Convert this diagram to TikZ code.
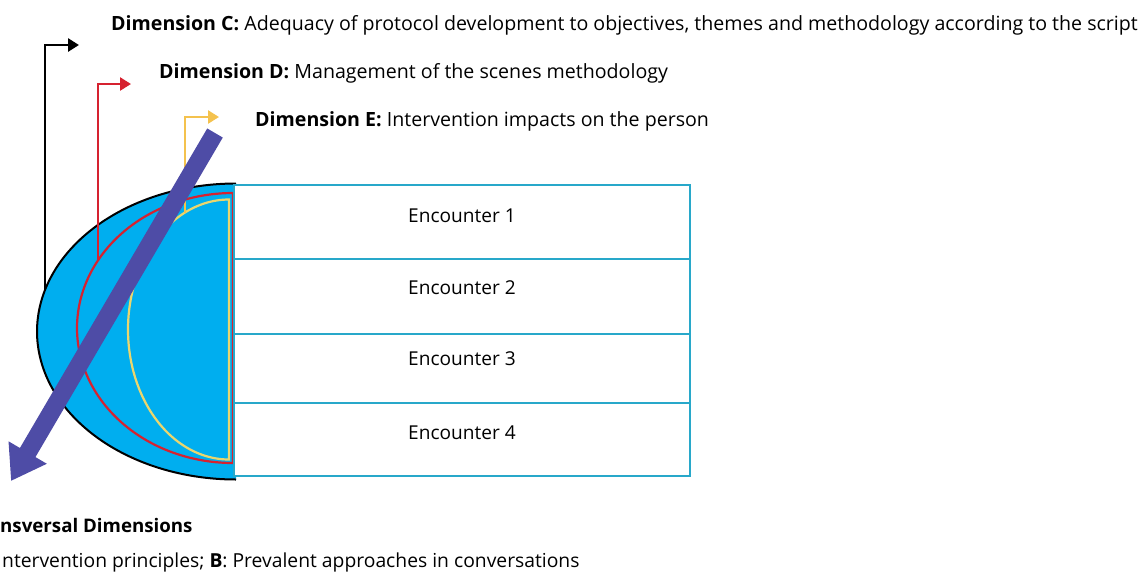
\documentclass[tikz,border=0pt]{standalone}
\usepackage{fontspec}
\setmainfont{Open Sans}
\usetikzlibrary{arrows.meta}

\definecolor{discblue}{RGB}{0,174,239}
\definecolor{gridcyan}{RGB}{40,168,202}
\definecolor{dimred}{RGB}{214,34,48}
\definecolor{dimyellow}{RGB}{244,194,78}
\definecolor{arcyellow}{RGB}{234,214,110}
\definecolor{transpurple}{RGB}{78,76,166}

\tikzset{
  dimtext/.style={anchor=base west, inner sep=0pt, font=\fontsize{19.6}{21}\selectfont, text=black},
  legtext/.style={anchor=base west, inner sep=0pt, font=\fontsize{19.3}{21}\selectfont, text=black},
  enctext/.style={anchor=base, inner sep=0pt, font=\fontsize{19.1}{21}\selectfont, text=black},
  encrow/.style={draw=gridcyan, line width=2.4pt, fill=white, minimum width=456pt, inner sep=0pt, anchor=north west},
  dimarrow/.style={line width=#1, -{Triangle[length=11pt,width=13pt]}},
  transarrow/.style={draw=transpurple, line width=18pt, -{Triangle[length=33pt,width=42pt]}},
}

\begin{document}
\begin{tikzpicture}[x=1pt, y=-1pt]
  \useasboundingbox (0,0) rectangle (1148,574);

  % half disc holding the encounters
  \fill[discblue] plot[domain=90:270, samples=120] ({236+199*cos(\x)}, {331.5-148*sin(\x)}) -- cycle;
  \draw[black, line width=2pt] plot[domain=90:270, samples=120] ({236+199*cos(\x)}, {331.5-148*sin(\x)});

  % inner arcs for dimensions D and E
  \draw[dimred, line width=2.2pt] plot[domain=90:270, samples=120] ({233+156*cos(\x)}, {328-135*sin(\x)}) -- cycle;
  \draw[arcyellow, line width=2.2pt] plot[domain=90:270, samples=120] ({229+101*cos(\x)}, {329.5-130*sin(\x)}) -- cycle;

  % elbow arrows leading to the dimension labels
  \coordinate (cFoot) at (45,289);
  \coordinate (cTip) at (79,45);
  \coordinate (dFoot) at (98,260);
  \coordinate (dTip) at (131,84);
  \coordinate (eFoot) at (185,213);
  \coordinate (eTip) at (219,117);
  \draw[black, dimarrow=2.8pt] (cFoot) |- (cTip);
  \draw[dimred, dimarrow=2.5pt] (dFoot) |- (dTip);
  \draw[dimyellow, dimarrow=2.5pt] (eFoot) |- (eTip);

  % encounter rows
  \node[encrow, minimum height=74pt] (enc1) at (233,184) {};
  \node[encrow, minimum height=75pt] (enc2) at (233,258) {};
  \node[encrow, minimum height=69pt] (enc3) at (233,333) {};
  \node[encrow, minimum height=73pt] (enc4) at (233,402) {};
  \node[enctext] (t1) at (462,222) {Encounter 1};
  \node[enctext] (t2) at (462,294) {Encounter 2};
  \node[enctext] (t3) at (462,365) {Encounter 3};
  \node[enctext] (t4) at (462,439) {Encounter 4};

  % transversal arrow across the disc
  \coordinate (tTop) at (215,133);
  \coordinate (tTip) at (11,481);
  \draw[transarrow] (tTop) -- (tTip);

  % labels
  \node[dimtext] (dimC) at (111,30) {\textbf{Dimension C:} Adequacy of protocol development to objectives, themes and methodology according to the script};
  \node[dimtext] (dimD) at (159,78) {\textbf{Dimension D:} Management of the scenes methodology};
  \node[dimtext] (dimE) at (255,126) {\textbf{Dimension E:} Intervention impacts on the person};
  \node[legtext, font=\fontsize{18.7}{21}\selectfont] (transT) at (0,532) {\textbf{nsversal Dimensions}};
  \node[legtext] (transAB) at (2,567) {ntervention principles; \textbf{B}: Prevalent approaches in conversations};
\end{tikzpicture}
\end{document}
